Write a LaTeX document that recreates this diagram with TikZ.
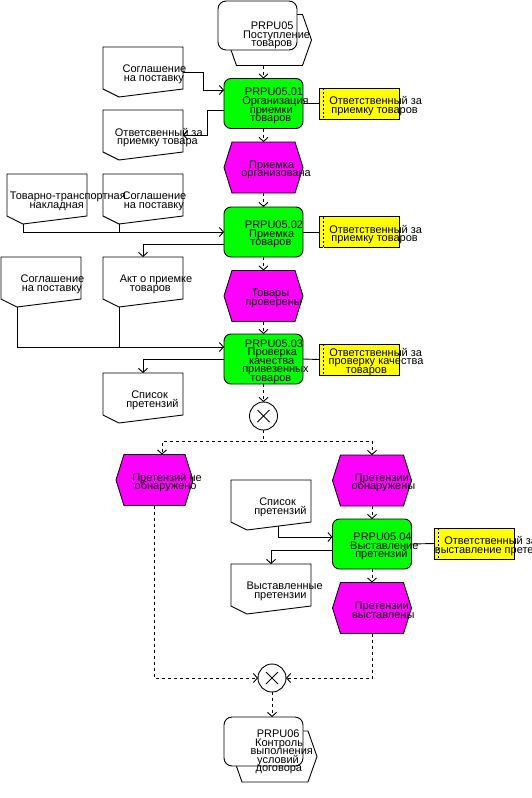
\documentclass[tikz,border=0pt]{standalone}
\usepackage{fontspec}
\setmainfont{Liberation Sans}
\usetikzlibrary{arrows.meta}

\definecolor{fncol}{RGB}{0,255,0}
\definecolor{evcol}{RGB}{255,0,255}
\definecolor{orgcol}{RGB}{255,255,0}

\newsavebox{\arisbox}
\newcommand{\sline}[1]{\sbox{\arisbox}{#1}\hspace*{0.36\wd\arisbox}\usebox{\arisbox}}

\begin{document}
\begin{tikzpicture}[
    x=1pt, y=-1pt,
    line width=0.9pt,
    shp/.style={inner sep=0pt, outer sep=0pt},
    fn/.style={shp, draw, fill=fncol, rounded corners=7pt, minimum width=79pt, minimum height=50pt},
    pif/.style={shp, draw, fill=white, rounded corners=8pt, minimum width=79pt, minimum height=49pt},
    evt/.style={shp, minimum width=79pt, minimum height=51pt},
    hexb/.style={shp, minimum width=84pt, minimum height=51pt},
    doc/.style={shp, minimum width=80pt, minimum height=50pt},
    org/.style={shp, draw, fill=orgcol, minimum width=80pt, minimum height=31pt},
    xor/.style={shp, circle, draw, fill=white, minimum size=28pt,
        path picture={\draw
            ([shift={(-6pt,-6pt)}]path picture bounding box.center) -- ([shift={(6pt,6pt)}]path picture bounding box.center)
            ([shift={(-6pt,6pt)}]path picture bounding box.center) -- ([shift={(6pt,-6pt)}]path picture bounding box.center);}},
    lbl/.style={align=center, inner sep=0pt, yshift=-2.5pt,
        font={\fontsize{11}{8.6}\selectfont\lineskiplimit=-20pt}},
    flow/.style={dash pattern=on 3pt off 3pt, -{Straight Barb[length=4pt,width=9pt]}},
    info/.style={-{Straight Barb[length=4pt,width=9pt]}}
]
\useasboundingbox (0,0) rectangle (531,798);

% Hexagons behind the process interfaces, events, documents
\node[hexb] (p05h) at (269.5,40) {};
\node[hexb] (p06h) at (275,756.5) {};
\node[evt] (e1) at (263.5,167.5) {};
\node[evt] (e2) at (263.5,296) {};
\node[evt, minimum width=77pt] (e3) at (154.5,480) {};
\node[evt] (e4) at (372,480.5) {};
\node[evt] (e5) at (372,608) {};

\foreach \hx in {p05h,p06h}
  \filldraw[fill=white] ([xshift=9pt]\hx.north west) -- ([xshift=-9pt]\hx.north east) -- (\hx.east)
    -- ([xshift=-9pt]\hx.south east) -- ([xshift=9pt]\hx.south west) -- (\hx.west) -- cycle;

\foreach \ev in {e1,e2,e3,e4,e5}
  \filldraw[fill=evcol] ([xshift=8pt]\ev.north west) -- ([xshift=-8pt]\ev.north east) -- (\ev.east)
    -- ([xshift=-8pt]\ev.south east) -- ([xshift=8pt]\ev.south west) -- (\ev.west) -- cycle;

% Process interfaces
\node[pif] (p05) at (257.5,25.5) {};
\node[pif] (p06) at (263.5,741.5) {};

% Functions
\node[fn] (f1) at (263.5,103.5) {};
\node[fn] (f2) at (263.5,232) {};
\node[fn] (f3) at (263.5,359) {};
\node[fn] (f4) at (372,544) {};

% Org units
\node[org] (o1) at (359,103.5) {};
\node[org] (o2) at (359,232) {};
\node[org] (o3) at (359,359.5) {};
\node[org] (o4) at (474,543.5) {};

\foreach \og in {o1,o2,o3,o4} {
  \draw[white] ([xshift=4pt]\og.north west) -- ([xshift=4pt]\og.south west);
  \draw[dash pattern=on 2pt off 2pt] ([xshift=4pt]\og.north west) -- ([xshift=4pt]\og.south west);
}

% XOR connectors
\node[xor] (x1) at (263.5,416) {};
\node[xor] (x2) at (272,678) {};

% Documents
\node[doc] (d1) at (143,72) {};
\node[doc] (d2) at (143,135) {};
\node[doc] (d3) at (47,199) {};
\node[doc] (d4) at (143,199) {};
\node[doc] (d5) at (41,282) {};
\node[doc] (d6) at (143,282) {};
\node[doc] (d7) at (143,398) {};
\node[doc] (d8) at (271,505) {};
\node[doc] (d9) at (271,589) {};

\foreach \dn in {d1,d2,d3,d4,d5,d6,d7,d8,d9}
  \draw (\dn.north west) -- (\dn.north east) -- ([yshift=8pt]\dn.south east)
    -- ([xshift=16pt]\dn.south west) -- ([yshift=8pt]\dn.south west) -- cycle;

% Control flow
\draw[flow] (f1.north |- p05h.south) -- (f1.north);
\draw[flow] (f1.south) -- (e1.north);
\draw[flow] (e1.south) -- (f2.north);
\draw[flow] (f2.south) -- (e2.north);
\draw[flow] (e2.south) -- (f3.north);
\draw[flow] (f3.south) -- (x1.north);
\draw[flow] (x1.south) -- ++(0,11) coordinate (split) -| ([xshift=7.5pt]e3.north);
\draw[flow] (split) -| (e4.north);
\draw[flow] (e4.south) -- (f4.north);
\draw[flow] (f4.south) -- (e5.north);
\draw[flow] (e5.south) |- (x2.east);
\draw[flow] (e3.south) |- (x2.west);
\draw[flow] (x2.south) -- (x2.south |- p06.north);

% Information flow
\coordinate (in3) at ([yshift=12pt]f3.west);
\draw[info] (d1.east) -| ([xshift=-21pt,yshift=13.5pt]f1.west) -- ([yshift=13.5pt]f1.west);
\draw[info] ([yshift=-6.5pt]f1.west) -| ([xshift=24pt]d2.east) -- (d2.east);
\draw[info] ([xshift=-24pt]d3.south) |- (f2.west);
\draw ([xshift=-24pt]d4.south) -- ([xshift=-24pt]d4.south |- f2.west);
\draw[info] ([yshift=-12pt]f2.west) -| (d6.north);
\draw[info] ([xshift=-24pt]d5.south) |- (in3);
\draw ([xshift=-24pt]d6.south) -- ([xshift=-24pt]d6.south |- in3);
\draw[info] (f3.west) -| (d7.north);
\draw[info] ([xshift=7pt,yshift=4pt]d8.south) |- ([yshift=7pt]f4.west);
\draw[info] ([yshift=-6pt]f4.west) -| (d9.north);

% Org assignments
\draw (f1.east) -- (o1.west);
\draw (f2.east) -- (o2.west);
\draw (f3.east) -- (o3.west);
\draw (f4.east) -- (o4.west);

% Texts
\node[lbl] (p05t) at (264.5,33) {\sline{PRPU05}\\\sline{Поступление}\\\sline{товаров}};
\node[lbl] (f1t) at (f1) {\sline{PRPU05.01}\\\sline{Организация}\\\sline{приемки}\\\sline{товаров}};
\node[lbl] (o1t) at (o1) {\sline{Ответственный за}\\\sline{приемку товаров}};
\node[lbl] (d1t) at (d1) {\sline{Соглашение}\\\sline{на поставку}};
\node[lbl] (d2t) at (d2) {\sline{Ответсвенный за}\\\sline{приемку товара}};
\node[lbl] (e1t) at (e1) {\sline{Приемка}\\\sline{организована}};
\node[lbl] (f2t) at (f2) {\sline{PRPU05.02}\\\sline{Приемка}\\\sline{товаров}};
\node[lbl] (o2t) at (o2) {\sline{Ответственный за}\\\sline{приемку товаров}};
\node[lbl] (d3t) at (d3) {\sline{Товарно-транспортная}\\\sline{накладная}};
\node[lbl] (d4t) at (d4) {\sline{Соглашение}\\\sline{на поставку}};
\node[lbl] (d5t) at (d5) {\sline{Соглашение}\\\sline{на поставку}};
\node[lbl] (d6t) at (d6) {\sline{Акт о приемке}\\\sline{товаров}};
\node[lbl] (e2t) at (e2) {\sline{Товары}\\\sline{проверены}};
\node[lbl] (f3t) at (f3) {\sline{PRPU05.03}\\\sline{Проверка}\\\sline{качества}\\\sline{привезенных}\\\sline{товаров}};
\node[lbl] (o3t) at (o3) {\sline{Ответственный за}\\\sline{проверку качества}\\\sline{товаров}};
\node[lbl] (d7t) at (d7) {\sline{Список}\\\sline{претензий}};
\node[lbl] (e3t) at (e3) {\sline{Претензий не}\\\sline{обнаружено}};
\node[lbl] (e4t) at (e4) {\sline{Претензии}\\\sline{обнаружены}};
\node[lbl] (d8t) at (d8) {\sline{Список}\\\sline{претензий}};
\node[lbl] (f4t) at (f4) {\sline{PRPU05.04}\\\sline{Выставление}\\\sline{претензий}};
\node[lbl] (o4t) at (o4) {\sline{Ответственный за}\\\sline{выставление претензий}};
\node[lbl] (d9t) at (d9) {\sline{Выставленные}\\\sline{претензии}};
\node[lbl] (e5t) at (e5) {\sline{Претензии}\\\sline{выставлены}};
\node[lbl] (p06t) at (270.5,749.5) {\sline{PRPU06}\\\sline{Контроль}\\\sline{выполнения}\\\sline{условий}\\\sline{договора}};

\end{tikzpicture}
\end{document}
